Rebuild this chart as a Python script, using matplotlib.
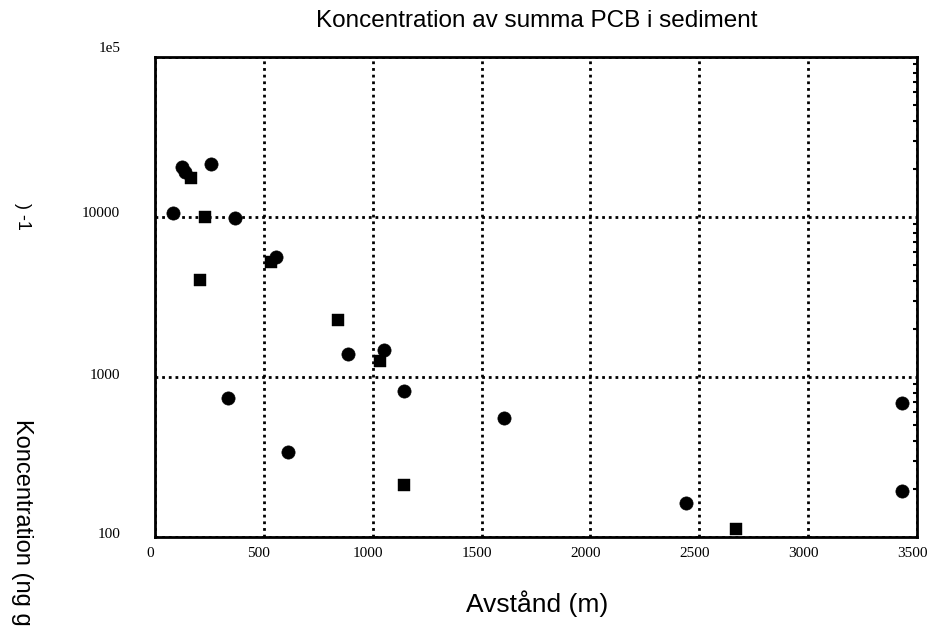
import matplotlib
matplotlib.use("Agg")
import matplotlib.pyplot as plt
import matplotlib.transforms as mtransforms
from matplotlib.ticker import FixedLocator, NullFormatter, LogLocator

# --- data ---
circle_x = [122, 137, 259, 84, 369, 558, 887, 1052, 335, 1144, 613, 1601, 2440, 3431, 3431]
circle_y = [20600, 19200, 21400, 10640, 9820, 5600, 1387, 1475, 736, 821, 338, 557, 164, 690, 194]
square_x = [167, 229, 531, 206, 839, 1032, 1144, 2668]
square_y = [17450, 10040, 5260, 4040, 2270, 1259, 211, 113]

x_ticks = [0, 500, 1000, 1500, 2000, 2500, 3000, 3500]
x_tick_labels = ["0", "500", "1000", "1500", "2000", "2500", "3000", "3500"]
y_ticks = [100, 1000, 10000, 100000]
y_tick_labels = ["100", "1000", "10000", "1e5"]

title = "Koncentration av summa PCB i sediment"
xlabel = "Avstånd (m)"
ylabel_main = "Koncentration (ng g"
ylabel_tail = ") -1"

W, H = 933, 639
fig = plt.figure(figsize=(W / 100, H / 100), dpi=100)
ax = fig.add_axes([155 / W, 1 - 537 / H, 762 / W, 480 / H])

ax.set_yscale("log")
ax.set_xlim(0, 3500)
ax.set_ylim(100, 100000)

ax.plot(circle_x, circle_y, linestyle="none", marker="o", ms=9.5, mfc="black", mec="black", mew=0.5, zorder=5)
ax.plot(square_x, square_y, linestyle="none", marker="s", ms=8, mfc="black", mec="black", mew=0.3, zorder=5)

# grid
ax.xaxis.set_major_locator(FixedLocator(x_ticks))
ax.yaxis.set_major_locator(FixedLocator(y_ticks))
ax.set_xticklabels(x_tick_labels)
ax.set_yticklabels(y_tick_labels)
ax.grid(True, which="major", color="black", linestyle=(0, (1, 1.4)), linewidth=2.0)
ax.set_axisbelow(True)

for s in ax.spines.values():
    s.set_color("black")
    s.set_linewidth(2.0)

ax.tick_params(axis="both", which="major", length=0)
ax.tick_params(axis="x", pad=7)
ax.tick_params(axis="y", pad=25)
for lab in ax.get_xticklabels() + ax.get_yticklabels():
    lab.set_fontfamily("Liberation Serif")
    lab.set_fontsize(11)
xoff = mtransforms.ScaledTranslation(-5 / 100, 0, fig.dpi_scale_trans)
for lab in ax.get_xticklabels():
    lab.set_transform(lab.get_transform() + xoff)
y_shifts = [4, 3, 5, 10]
for lab, dy in zip(ax.get_yticklabels(), y_shifts):
    lab.set_transform(lab.get_transform() + mtransforms.ScaledTranslation(0, dy / 100, fig.dpi_scale_trans))

# small minor ticks on right side
ax.yaxis.set_minor_locator(LogLocator(base=10, subs=(2, 3, 4, 5, 6, 7, 8, 9)))
ax.yaxis.set_minor_formatter(NullFormatter())
ax.tick_params(axis="y", which="minor", left=False, right=True, direction="in", length=3, width=1.5)

fig.text(537 / W, 1 - 21 / H, title, ha="center", va="center", fontsize=17.5, fontfamily="Liberation Sans")
fig.text(537 / W, 1 - 604 / H, xlabel, ha="center", va="center", fontsize=19, fontfamily="Liberation Sans")

# y label (split in pieces as in the original)
fig.text(22 / W, 1 - 203 / H, ylabel_tail, ha="center", va="top", rotation=270, fontsize=13,
         fontfamily="Liberation Sans")
fig.text(22 / W, 1 - 419 / H, ylabel_main, ha="center", va="top", rotation=270, fontsize=17,
         fontfamily="Liberation Sans")

fig.savefig("out.png", dpi=100)
